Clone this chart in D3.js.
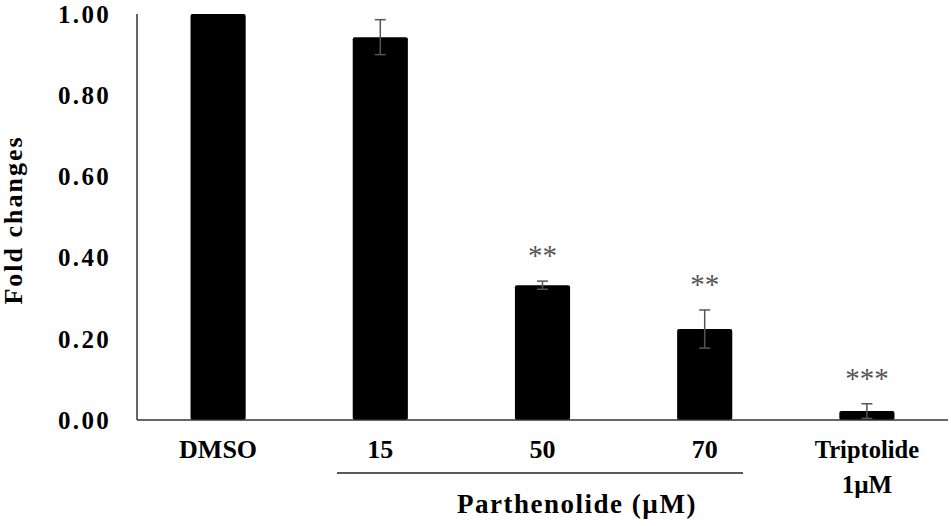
<!DOCTYPE html>
<html>
<head>
<meta charset="utf-8">
<script src="https://cdn.jsdelivr.net/npm/d3@7"></script>
<style>
  body { margin: 0; background: #fff; }
  text { font-family: "Liberation Serif", "Times New Roman", serif; font-weight: bold; }
</style>
</head>
<body>
<svg id="chart" width="951" height="526"></svg>
<script>
// data
var categories = ["DMSO", "15", "50", "70", "Triptolide"];
var foldChange = [1.00, 0.943, 0.332, 0.224, 0.022];
var errors     = [0.0, 0.043, 0.010, 0.047, 0.018];
var stars      = ["", "", "**", "**", "***"];
var yTicks     = [0, 0.2, 0.4, 0.6, 0.8, 1.0];

var svg = d3.select("#chart");

var x = d3.scaleBand()
    .domain(categories)
    .range([137, 948])
    .paddingInner(0.66)
    .paddingOuter(0.33);

var y = d3.scaleLinear()
    .domain([0, 1])
    .range([420, 14]);

// y axis line + labels (no tick marks)
svg.append("line")
    .attr("x1", 137).attr("x2", 137)
    .attr("y1", y(1)).attr("y2", y(0))
    .attr("stroke", "#333").attr("stroke-width", 1.5);

svg.selectAll("yLabel")
    .data(yTicks)
    .enter()
    .append("text")
    .attr("x", 111)
    .attr("y", function(d){ return y(d); })
    .attr("dy", "0.35em")
    .attr("text-anchor", "end")
    .style("font-size", "25px")
    .style("letter-spacing", "2.3px")
    .text(function(d){ return d3.format(".2f")(d); });

// bars
svg.selectAll("bar")
    .data(categories)
    .enter()
    .append("rect")
    .attr("x", function(d){ return x(d); })
    .attr("width", x.bandwidth())
    .attr("y", function(d, i){ return y(foldChange[i]); })
    .attr("height", function(d, i){ return y(0) - y(foldChange[i]); })
    .attr("rx", 2)
    .attr("fill", "#000");

// x axis baseline
svg.append("line")
    .attr("x1", 137).attr("x2", 948)
    .attr("y1", y(0)).attr("y2", y(0))
    .attr("stroke", "#333").attr("stroke-width", 1.5);

// error bars
var errG = svg.selectAll("errBar")
    .data(categories.filter(function(d, i){ return errors[i] > 0; }))
    .enter()
    .append("g")
    .attr("stroke", "#555")
    .attr("stroke-width", 1.5);

errG.append("line")
    .attr("x1", function(d){ return x(d) + x.bandwidth()/2; })
    .attr("x2", function(d){ return x(d) + x.bandwidth()/2; })
    .attr("y1", function(d){ var i = categories.indexOf(d); return y(foldChange[i] + errors[i]); })
    .attr("y2", function(d){ var i = categories.indexOf(d); return y(foldChange[i] - errors[i]); });

[1, -1].forEach(function(s){
    errG.append("line")
        .attr("x1", function(d){ return x(d) + x.bandwidth()/2 - 5.5; })
        .attr("x2", function(d){ return x(d) + x.bandwidth()/2 + 5.5; })
        .attr("y1", function(d){ var i = categories.indexOf(d); return y(foldChange[i] + s*errors[i]); })
        .attr("y2", function(d){ var i = categories.indexOf(d); return y(foldChange[i] + s*errors[i]); });
});

// significance stars
svg.selectAll("star")
    .data(categories)
    .enter()
    .append("text")
    .attr("x", function(d){ return x(d) + x.bandwidth()/2; })
    .attr("y", function(d, i){ return y(foldChange[i] + errors[i]) - 16; })
    .attr("text-anchor", "middle")
    .style("font-size", "29px")
    .style("font-weight", "normal")
    .attr("fill", "#555")
    .text(function(d, i){ return stars[i]; });

// category labels
svg.selectAll("xLabel")
    .data(categories)
    .enter()
    .append("text")
    .attr("x", function(d){ return x(d) + x.bandwidth()/2; })
    .attr("y", 458)
    .attr("text-anchor", "middle")
    .style("font-size", function(d){ return d == "Triptolide" ? "24.5px" : "26px"; })
    .text(function(d){ return d; });

svg.append("text")
    .attr("x", x("Triptolide") + x.bandwidth()/2)
    .attr("y", 493)
    .attr("text-anchor", "middle")
    .style("font-size", "25px")
    .text("1µM");

// group bracket for parthenolide
svg.append("line")
    .attr("x1", 337).attr("x2", 743)
    .attr("y1", 473).attr("y2", 473)
    .attr("stroke", "#222").attr("stroke-width", 1.5);

svg.append("text")
    .attr("x", 577)
    .attr("y", 513)
    .attr("text-anchor", "middle")
    .style("font-size", "27px")
    .style("letter-spacing", "1.5px")
    .text("Parthenolide (µM)");

// y axis title
svg.append("text")
    .attr("transform", "translate(22,220) rotate(-90)")
    .attr("text-anchor", "middle")
    .style("font-size", "26px")
    .style("letter-spacing", "2px")
    .text("Fold changes");
</script>
</body>
</html>
